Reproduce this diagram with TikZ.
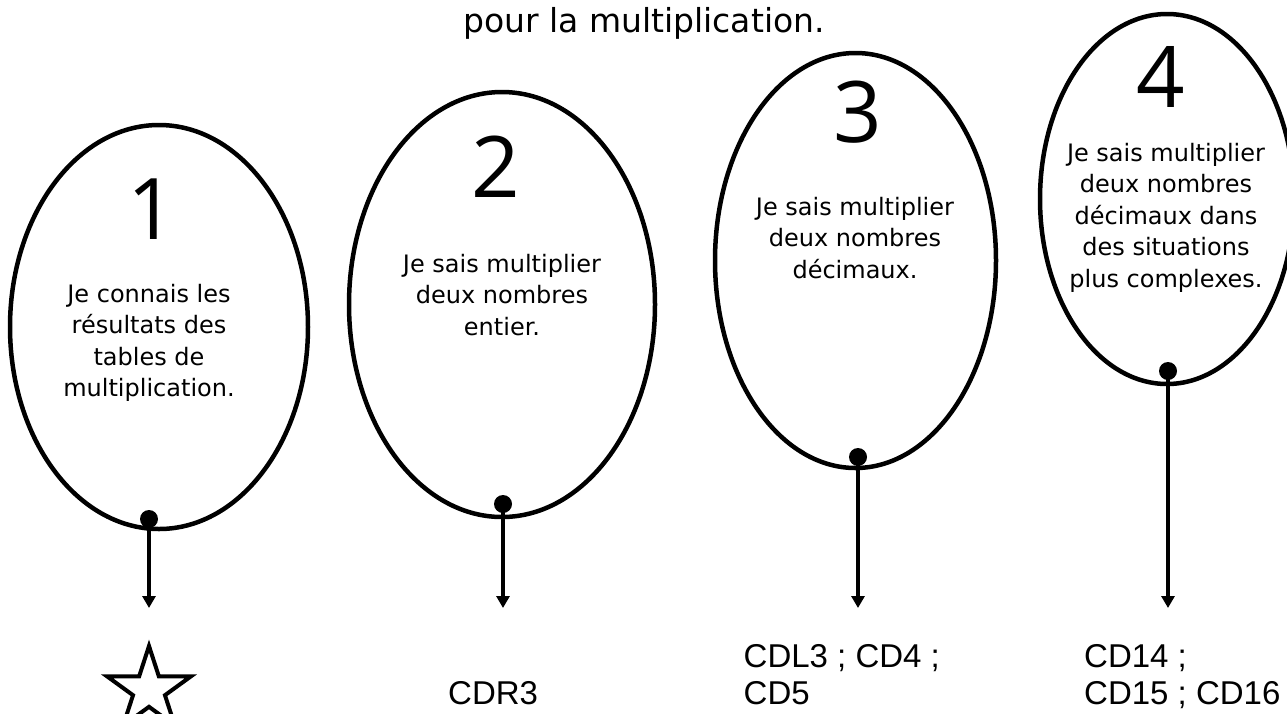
\documentclass[tikz,border=0pt]{standalone}
\usepackage{fontspec}
\setmainfont{DejaVu Sans}
\newfontfamily\cdfont{Liberation Sans}
\newfontfamily\digitfont{Open Sans}
\usetikzlibrary{shapes.geometric,arrows.meta}
\tikzset{
  oval/.style={draw, line width=4.5pt, ellipse, inner sep=0pt},
  dotnode/.style={circle, fill=black, inner sep=0pt, minimum size=18pt},
  conn/.style={line width=4pt, -{Triangle[width=13pt,length=12pt]}},
  bodytext/.style={font=\fontsize{24}{31.5}\selectfont, align=center, inner sep=0pt, anchor=north},
  cdtext/.style={font=\cdfont\fontsize{33}{37}\selectfont, align=left, inner sep=0pt},
  digit/.style={font=\digitfont\fontsize{85}{90}\selectfont, inner sep=0pt, anchor=base},
  titletext/.style={font=\fontsize{33}{40}\selectfont, inner sep=0pt, anchor=base},
  starline/.style={draw, line width=4pt, line join=miter}
}
\begin{document}
\begin{tikzpicture}[x=1pt,y=-1pt]
\useasboundingbox (0,0) rectangle (1287,713);
\clip (0,0) rectangle (1287,713);
\fill[white] (0,0) rectangle (1287,713);

% title
\node[titletext] (title) at (644,32) {pour la multiplication.};

% ellipses
\node[oval, minimum width=298pt, minimum height=404pt] (e1) at (159,327) {};
\node[oval, minimum width=306pt, minimum height=425pt] (e2) at (502,304.5) {};
\node[oval, minimum width=281pt, minimum height=415pt] (e3) at (855.5,260.5) {};
\node[oval, minimum width=254pt, minimum height=370pt] (e4) at (1167,199) {};

% digits
\node[digit] (n1) at (152,239) {1};
\node[digit] (n2) at (496,197) {2};
\node[digit] (n3) at (858,142) {3};
\node[digit] (n4) at (1161,107) {4};

% texts
\node[bodytext] (x1) at (149,283) {\rule{0pt}{19pt}Je connais les\\résultats des\\tables de\\multiplication.};
\node[bodytext] (x2) at (502,253) {\rule{0pt}{19pt}Je sais multiplier\\deux nombres\\entier.};
\node[bodytext] (x3) at (855,196) {\rule{0pt}{19pt}Je sais multiplier\\deux nombres\\décimaux.};
\node[bodytext] (x4) at (1166,142) {\rule{0pt}{19pt}Je sais multiplier\\deux nombres\\décimaux dans\\des situations\\plus complexes.};

% dots
\node[dotnode] (d1) at (149,519) {};
\node[dotnode] (d2) at (503,504) {};
\node[dotnode] (d3) at (858,457) {};
\node[dotnode] (d4) at (1168,371) {};

% arrow ends
\coordinate (t1) at (149,608);
\coordinate (t2) at (503,608);
\coordinate (t3) at (858,608);
\coordinate (t4) at (1168,608);

\draw[conn] (d1.center) -- (t1);
\draw[conn] (d2.center) -- (t2);
\draw[conn] (d3.center) -- (t3);
\draw[conn] (d4.center) -- (t4);

% star
\coordinate (s1) at (149,690);
\draw[starline, shift={(s1)}] (270:44) -- (306:16.8) -- (342:44) -- (18:16.8) -- (54:44) -- (90:16.8) -- (126:44) -- (162:16.8) -- (198:44) -- (234:16.8) -- cycle;

% labels
\node[cdtext, anchor=base west] (l2) at (448,704) {CDR3};
\node[cdtext, anchor=north west] (l3) at (743.5,642) {\rule{0pt}{25pt}CDL3 ; CD4 ;\\CD5};
\node[cdtext, anchor=north west] (l4) at (1084,642) {\rule{0pt}{25pt}CD14 ;\\CD15 ; CD16};
\end{tikzpicture}
\end{document}
